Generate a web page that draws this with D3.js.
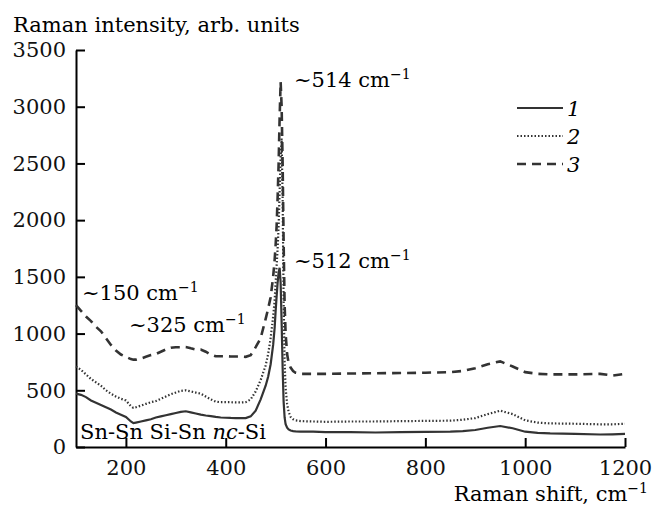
<!DOCTYPE html>
<html>
<head>
<meta charset="utf-8">
<script src="https://cdn.jsdelivr.net/npm/d3@7"></script>
<style>
  body { margin: 0; background: #fff; }
</style>
</head>
<body>
<svg width="657" height="505"></svg>
<script>
// Raman shift grid, cm^-1
var shift = [100,110,120,130,140,150,160,170,180,190,200,210,215,220,230,240,250,260,270,280,
  290,300,310,320,330,340,350,360,370,380,390,400,410,420,430,440,450,460,470,480,
  485,490,495,498,500,502,504,506,508,510,512,514,516,518,520,523,526,530,535,540,
  550,575,600,650,700,750,800,850,875,900,925,950,975,1000,1025,1050,1100,1150,1175,1200]

// sample 1 (solid)
var series1 = [470,460,440,410,390,370,350,330,305,285,265,225,210,215,225,235,245,260,270,280,
  290,300,310,315,305,295,285,278,272,265,260,258,256,255,255,255,270,320,420,540,
  620,730,900,1050,1200,1330,1450,1540,1580,1450,1100,700,400,260,200,170,155,145,140,138,
  135,135,132,132,128,132,133,135,140,150,170,185,165,135,125,120,115,110,112,115]

// sample 2 (dotted)
var series2 = [710,680,640,600,570,540,500,470,445,425,410,360,345,350,365,380,395,405,425,445,
  465,480,495,500,490,480,470,445,420,400,395,395,395,393,393,395,420,490,590,720,
  820,960,1150,1290,1450,1600,1750,1950,2250,2550,2720,2200,1300,750,520,380,310,265,245,235,
  228,225,222,225,225,228,230,232,240,255,290,320,290,235,215,208,205,200,200,205]

// sample 3 (dashed)
var series3 = [1250,1200,1150,1110,1060,1020,960,900,850,815,795,775,770,770,780,795,810,820,840,860,
  875,880,880,882,870,860,860,840,815,800,800,800,798,798,798,795,810,880,960,1130,
  1220,1320,1500,1650,1780,1950,2200,2500,2900,3220,3000,2500,1800,1250,1000,820,740,700,670,655,
  645,645,645,648,650,652,655,660,670,695,730,755,710,660,645,640,640,645,630,645]

var xTicks = [200,400,600,800,1000,1200]
var yTicks = [0,500,1000,1500,2000,2500,3000,3500]

var serif = 'DejaVu Serif'   // only serif face available offline
var fs = 21
var svg = d3.select('svg')

var x = d3.scaleLinear().domain([100, 1200]).range([76, 625])
var y = d3.scaleLinear().domain([0, 3500]).range([447, 50])

// axes, ticks pointing inward
svg.append('g')
    .attr('transform', 'translate(0,' + y(0) + ')')
    .call(d3.axisBottom(x).tickValues(xTicks).tickFormat(d3.format('d'))
      .tickSize(-9).tickSizeOuter(0).tickPadding(13))
svg.append('g')
    .attr('transform', 'translate(' + x(100) + ',0)')
    .call(d3.axisLeft(y).tickValues(yTicks).tickFormat(d3.format('d'))
      .tickSize(-9).tickSizeOuter(0).tickPadding(10))

svg.selectAll('.domain, .tick line').attr('stroke', '#000').attr('stroke-width', 2)
svg.selectAll('.tick text').attr('font-size', fs).attr('fill', '#111')

var line = d3.line()
    .x(function(d) { return x(d[0]) })
    .y(function(d) { return y(d[1]) })

var styles = [
  {data: series1, dash: null, width: 2.2},
  {data: series2, dash: '1.5,2', width: 2.2},
  {data: series3, dash: '9,6', width: 2.6}
]

styles.forEach(function(s) {
  svg.append('path')
    .datum(shift.map(function(v, i) { return [v, s.data[i]] }))
    .attr('d', line)
    .attr('fill', 'none')
    .attr('stroke', '#333')
    .attr('stroke-width', s.width)
    .attr('stroke-dasharray', s.dash)
})

// legend
var legend = svg.append('g')
styles.forEach(function(s, i) {
  var ly = 108 + i * 28
  legend.append('line')
    .attr('x1', 517).attr('x2', 563).attr('y1', ly).attr('y2', ly)
    .attr('stroke', '#333').attr('stroke-width', s.width)
    .attr('stroke-dasharray', s.dash)
  legend.append('text')
    .attr('x', 567).attr('y', ly + 8)
    .attr('font-size', fs).attr('font-style', 'italic')
    .text(i + 1)
})

// titles
svg.append('text').attr('x', 13).attr('y', 32).attr('font-size', fs)
  .text('Raman intensity, arb. units')
svg.append('text').attr('x', 648).attr('y', 501).attr('font-size', fs)
  .attr('text-anchor', 'end')
  .html('Raman shift, cm<tspan font-size="14" dy="-8">−1</tspan>')

// peak annotations
function note(tx, ty, label) {
  svg.append('text').attr('x', tx).attr('y', ty).attr('font-size', fs)
    .html('~' + label + ' cm<tspan font-size="14" dy="-8">−1</tspan>')
}
note(294, 87, '514')
note(294, 268, '512')
note(82, 300, '150')
note(129, 332, '325')

// band labels
var bands = svg.append('text').attr('x', 80).attr('y', 439).attr('font-size', fs)
bands.append('tspan').text('Sn-Sn Si-Sn ')
bands.append('tspan').attr('font-style', 'italic').text('nc')
bands.append('tspan').text('-Si')

svg.selectAll('text').attr('font-family', serif).style('font-family', serif)
</script>
</body>
</html>
